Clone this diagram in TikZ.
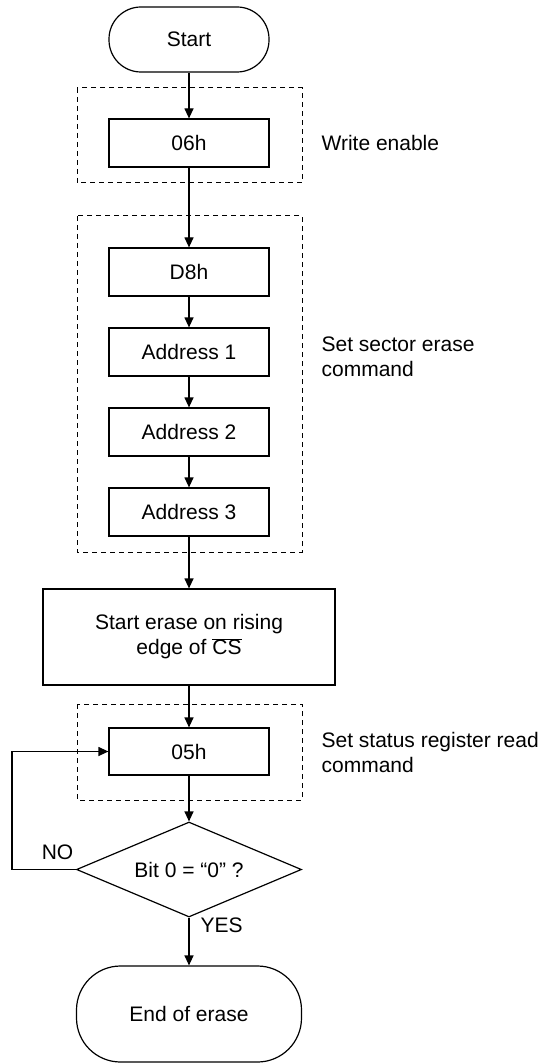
\documentclass[tikz,border=0pt]{standalone}
\usepackage{fontspec}
\setmainfont{Liberation Sans}
\usepackage{tikz}
\usetikzlibrary{shapes,arrows.meta}
\usetikzlibrary{positioning}

\begin{document}
\begin{tikzpicture}[x=1pt,y=-1pt,line width=1.2pt,
  font=\fontsize{21}{25}\selectfont,
  blk/.style={draw,rectangle,minimum width=160pt,minimum height=48pt,inner sep=0pt},
  term/.style={draw,rectangle,inner sep=0pt},
  grp/.style={line width=1pt,dash pattern=on 5pt off 4pt},
  arr/.style={-{Triangle[length=10pt,width=9pt]}},
  lbl/.style={inner sep=0pt,align=left}]
     % sector erase sequence
     \useasboundingbox (0,0) rectangle (547,1064);
     \draw[grp] (77,88) rectangle (302,183);
     \draw[grp] (77,216) rectangle (302,552);
     \draw[grp] (77,704) rectangle (302,800);
     \node[term,rounded corners=32pt,minimum width=160pt,minimum height=65pt] (start) at (189,39.5) {Start};
     \node[blk] (w06) at (189,143) {06h};
     \node[blk] (d8) at (189,272) {D8h};
     \node[blk] (ad1) at (189,352) {Address 1};
     \node[blk] (ad2) at (189,432) {Address 2};
     \node[blk] (ad3) at (189,512) {Address 3};
     \node[draw,rectangle,inner sep=0pt,align=center,minimum width=292pt,minimum height=96pt] (erase) at (189,637)
        {Start erase on rising\\edge of $\overline{\mbox{CS}}$};
     \node[blk,minimum height=47pt] (r05) at (189,751.5) {05h};
     \node[draw,diamond,inner sep=0pt,shape aspect=2.37,minimum width=225pt,minimum height=95pt] (bit) at (189,869.5) {Bit 0 = “0” ?};
     \node[term,rounded corners=44pt,minimum width=225pt,minimum height=96pt] (stop) at (189,1014) {End of erase};
     \node[lbl,anchor=west] (lwe) at (321,143) {Write enable};
     \node[lbl,anchor=west] (lsec) at (321,357) {Set sector erase\\command};
     \node[lbl,anchor=west] (lsr) at (321,752) {Set status register read\\command};
     \draw[arr] (start) -- (w06);
     \draw[arr] (w06) -- (d8);
     \draw[arr] (d8) -- (ad1);
     \draw[arr] (ad1) -- (ad2);
     \draw[arr] (ad2) -- (ad3);
     \draw[arr] (ad3) -- (erase);
     \draw[arr] (erase) -- (r05);
     \draw[arr] (r05) -- (bit);
     \draw[arr] (bit) -- (stop);
     \draw[arr] (bit.west) -- ++(-64,0) |- (r05.west);
     \node[lbl,anchor=south east] (no) at ([shift={(-2,-9)}]bit.west) {NO};
     \node[lbl,anchor=north west] (yes) at ([shift={(11,0)}]bit.south) {YES};
\end{tikzpicture}
\end{document}
